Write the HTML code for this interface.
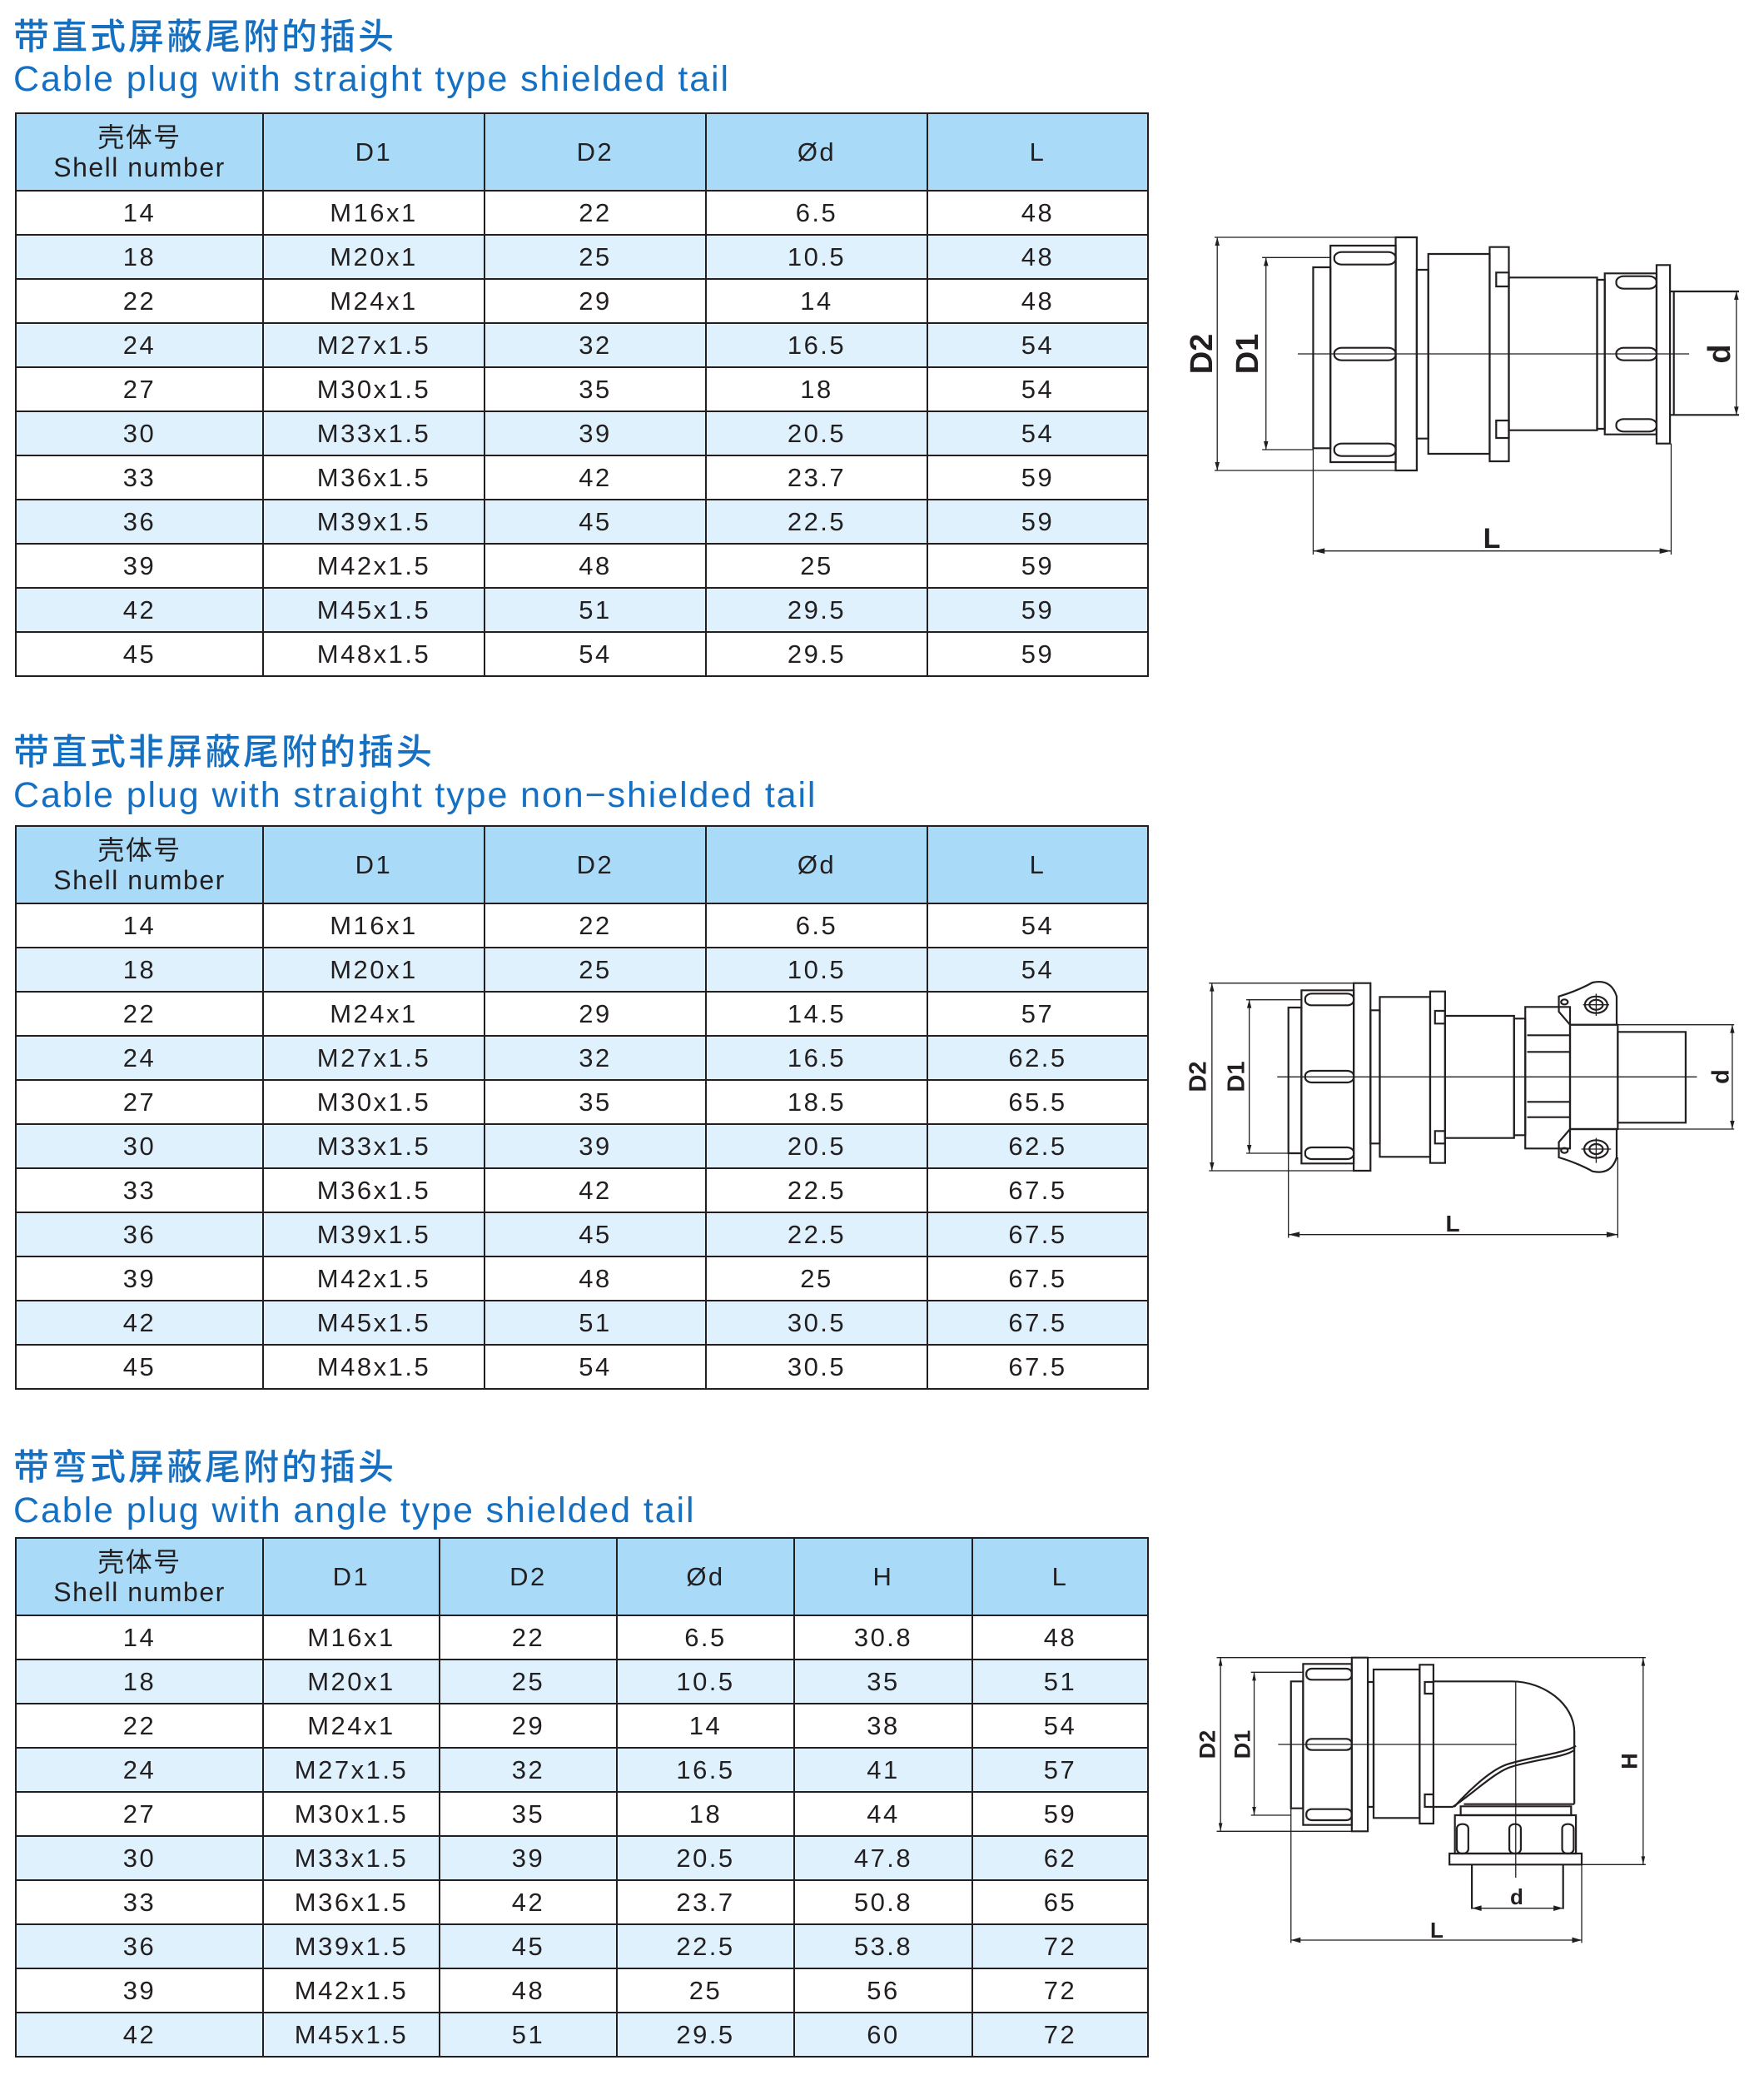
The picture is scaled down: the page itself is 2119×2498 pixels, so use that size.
<!DOCTYPE html>
<html><head><meta charset="utf-8">
<style>
html,body{margin:0;padding:0;background:#fff;}
body{width:2119px;height:2498px;position:relative;overflow:hidden;font-family:"Liberation Sans","Noto Sans CJK SC",sans-serif;}
.t1{position:absolute;left:16px;font-size:43px;line-height:48px;color:#1670c2;font-family:"Liberation Sans","Noto Sans CJK SC",sans-serif;letter-spacing:3px;font-weight:500;}
.t2{position:absolute;left:16px;font-size:43px;line-height:46px;color:#1670c2;letter-spacing:1.9px;}
table{position:absolute;left:18px;border-collapse:collapse;table-layout:fixed;width:1360px;}
td,th{border:2.5px solid #231f20;text-align:center;font-size:31px;letter-spacing:2.5px;color:#231f20;font-weight:normal;padding:0;height:51px;line-height:30px;}
th{background:#a9dbf8;height:91px;}
tr.a td{background:#def1fd;}
.hs{line-height:36px;font-size:32px;letter-spacing:1.5px}
.lb{position:absolute;font-weight:bold;color:#231f20;font-family:"Liberation Sans",sans-serif;transform:translate(-50%,-50%);line-height:1;}
.r{transform:translate(-50%,-50%) rotate(-90deg);}
svg{position:absolute;overflow:visible;}
svg *{vector-effect:non-scaling-stroke;}
</style></head><body>

<div class="t1" style="top:21px">带直式屏蔽尾附的插头</div>
<div class="t2" style="top:72px">Cable plug with straight type shielded tail</div>
<table style="top:135px">
<colgroup><col style="width:297px"><col style="width:266px"><col style="width:266px"><col style="width:266px"><col style="width:265px"></colgroup>
<tr><th><div class="hs">壳体号<br>Shell number</div></th><th>D1</th><th>D2</th><th>Ød</th><th>L</th></tr>
<tr><td>14</td><td>M16x1</td><td>22</td><td>6.5</td><td>48</td></tr>
<tr class="a"><td>18</td><td>M20x1</td><td>25</td><td>10.5</td><td>48</td></tr>
<tr><td>22</td><td>M24x1</td><td>29</td><td>14</td><td>48</td></tr>
<tr class="a"><td>24</td><td>M27x1.5</td><td>32</td><td>16.5</td><td>54</td></tr>
<tr><td>27</td><td>M30x1.5</td><td>35</td><td>18</td><td>54</td></tr>
<tr class="a"><td>30</td><td>M33x1.5</td><td>39</td><td>20.5</td><td>54</td></tr>
<tr><td>33</td><td>M36x1.5</td><td>42</td><td>23.7</td><td>59</td></tr>
<tr class="a"><td>36</td><td>M39x1.5</td><td>45</td><td>22.5</td><td>59</td></tr>
<tr><td>39</td><td>M42x1.5</td><td>48</td><td>25</td><td>59</td></tr>
<tr class="a"><td>42</td><td>M45x1.5</td><td>51</td><td>29.5</td><td>59</td></tr>
<tr><td>45</td><td>M48x1.5</td><td>54</td><td>29.5</td><td>59</td></tr>
</table>

<div class="t1" style="top:880px">带直式非屏蔽尾附的插头</div>
<div class="t2" style="top:932px">Cable plug with straight type non−shielded tail</div>
<table style="top:991px">
<colgroup><col style="width:297px"><col style="width:266px"><col style="width:266px"><col style="width:266px"><col style="width:265px"></colgroup>
<tr><th><div class="hs">壳体号<br>Shell number</div></th><th>D1</th><th>D2</th><th>Ød</th><th>L</th></tr>
<tr><td>14</td><td>M16x1</td><td>22</td><td>6.5</td><td>54</td></tr>
<tr class="a"><td>18</td><td>M20x1</td><td>25</td><td>10.5</td><td>54</td></tr>
<tr><td>22</td><td>M24x1</td><td>29</td><td>14.5</td><td>57</td></tr>
<tr class="a"><td>24</td><td>M27x1.5</td><td>32</td><td>16.5</td><td>62.5</td></tr>
<tr><td>27</td><td>M30x1.5</td><td>35</td><td>18.5</td><td>65.5</td></tr>
<tr class="a"><td>30</td><td>M33x1.5</td><td>39</td><td>20.5</td><td>62.5</td></tr>
<tr><td>33</td><td>M36x1.5</td><td>42</td><td>22.5</td><td>67.5</td></tr>
<tr class="a"><td>36</td><td>M39x1.5</td><td>45</td><td>22.5</td><td>67.5</td></tr>
<tr><td>39</td><td>M42x1.5</td><td>48</td><td>25</td><td>67.5</td></tr>
<tr class="a"><td>42</td><td>M45x1.5</td><td>51</td><td>30.5</td><td>67.5</td></tr>
<tr><td>45</td><td>M48x1.5</td><td>54</td><td>30.5</td><td>67.5</td></tr>
</table>

<div class="t1" style="top:1739px">带弯式屏蔽尾附的插头</div>
<div class="t2" style="top:1791px">Cable plug with angle type shielded tail</div>
<table style="top:1846px">
<colgroup><col style="width:297px"><col style="width:212px"><col style="width:213px"><col style="width:213px"><col style="width:214px"><col style="width:211px"></colgroup>
<tr><th><div class="hs">壳体号<br>Shell number</div></th><th>D1</th><th>D2</th><th>Ød</th><th>H</th><th>L</th></tr>
<tr><td>14</td><td>M16x1</td><td>22</td><td>6.5</td><td>30.8</td><td>48</td></tr>
<tr class="a"><td>18</td><td>M20x1</td><td>25</td><td>10.5</td><td>35</td><td>51</td></tr>
<tr><td>22</td><td>M24x1</td><td>29</td><td>14</td><td>38</td><td>54</td></tr>
<tr class="a"><td>24</td><td>M27x1.5</td><td>32</td><td>16.5</td><td>41</td><td>57</td></tr>
<tr><td>27</td><td>M30x1.5</td><td>35</td><td>18</td><td>44</td><td>59</td></tr>
<tr class="a"><td>30</td><td>M33x1.5</td><td>39</td><td>20.5</td><td>47.8</td><td>62</td></tr>
<tr><td>33</td><td>M36x1.5</td><td>42</td><td>23.7</td><td>50.8</td><td>65</td></tr>
<tr class="a"><td>36</td><td>M39x1.5</td><td>45</td><td>22.5</td><td>53.8</td><td>72</td></tr>
<tr><td>39</td><td>M42x1.5</td><td>48</td><td>25</td><td>56</td><td>72</td></tr>
<tr class="a"><td>42</td><td>M45x1.5</td><td>51</td><td>29.5</td><td>60</td><td>72</td></tr>
</table>

<!-- Diagram 1 -->
<svg style="left:1400px;top:250px" width="719" height="450" viewBox="0 0 1560 1350" preserveAspectRatio="none">
<g fill="none" stroke="#231f20" stroke-width="2.2">
<rect x="385" y="213" width="45" height="652"/>
<rect x="430" y="135" width="170" height="780"/>
<rect x="600" y="105" width="55" height="840"/>
<rect x="440" y="158" width="160" height="45" rx="20"/>
<rect x="440" y="503" width="160" height="45" rx="20"/>
<rect x="440" y="848" width="160" height="45" rx="20"/>
<rect x="655" y="222" width="30" height="608"/>
<rect x="685" y="165" width="160" height="720"/>
<rect x="845" y="140" width="50" height="772"/>
<rect x="862" y="232" width="33" height="50"/>
<rect x="862" y="765" width="33" height="63"/>
<rect x="895" y="250" width="230" height="550"/>
<rect x="1125" y="258" width="20" height="537"/>
<rect x="1145" y="235" width="135" height="580"/>
<rect x="1175" y="245" width="105" height="45" rx="20"/>
<rect x="1175" y="503" width="105" height="45" rx="20"/>
<rect x="1175" y="760" width="105" height="45" rx="20"/>
<rect x="1280" y="205" width="35" height="643"/>
<path d="M1315 300H1495M1315 745H1495M1325 300V745"/>
</g>
<g fill="none" stroke="#231f20" stroke-width="1.3">
<path d="M128 105H600M128 945H600M135 105V945"/>
<path d="M252 178H430M252 870H385M262 178V870"/>
<path d="M345 525H1365"/>
<path d="M1488 300V745"/>
<path d="M385 865V1248M1318 848V1248M385 1235H1318"/>
</g>
<g fill="#231f20">
<polygon points="129,135 135,105 141,135"/><polygon points="129,915 135,945 141,915"/>
<polygon points="256,208 262,178 268,208"/><polygon points="256,840 262,870 268,840"/>
<polygon points="1482,330 1488,300 1494,330"/><polygon points="1482,715 1488,745 1494,715"/>
<polygon points="385,1235 415,1225 415,1245"/><polygon points="1318,1235 1288,1225 1288,1245"/>
</g>
</svg>
<div class="lb r" style="left:1444px;top:425px;font-size:38px">D2</div>
<div class="lb r" style="left:1499px;top:425px;font-size:38px">D1</div>
<div class="lb r" style="left:2066px;top:425px;font-size:38px">d</div>
<div class="lb" style="left:1792px;top:647px;font-size:34px">L</div>

<!-- Diagram 2 -->
<svg style="left:1420px;top:1160px" width="699" height="350" viewBox="0 0 1560 1050" preserveAspectRatio="none">
<g fill="none" stroke="#231f20" stroke-width="2.2">
<rect x="285" y="150" width="35" height="525"/>
<rect x="320" y="88" width="140" height="624"/>
<rect x="460" y="62" width="45" height="676"/>
<rect x="330" y="100" width="130" height="42" rx="18"/>
<rect x="330" y="378" width="130" height="42" rx="18"/>
<rect x="330" y="654" width="130" height="42" rx="18"/>
<rect x="505" y="160" width="25" height="480"/>
<rect x="530" y="112" width="135" height="576"/>
<rect x="665" y="92" width="40" height="618"/>
<rect x="678" y="162" width="27" height="46"/>
<rect x="678" y="595" width="27" height="45"/>
<rect x="705" y="180" width="185" height="440"/>
<rect x="890" y="190" width="30" height="420"/>
<rect x="920" y="148" width="120" height="510"/>
<path d="M925 250H1040M925 310H1040M925 490H1040M925 545H1040"/>
<rect x="1040" y="212" width="128" height="376"/>
<path d="M1010 110Q1060 90 1100 60Q1150 45 1165 110V212H1040L1010 165Z"/>
<path d="M1010 690Q1060 710 1100 740Q1150 755 1165 690V588H1040L1010 635Z"/>
<circle cx="1110" cy="140" r="30"/><circle cx="1110" cy="140" r="18"/>
<circle cx="1110" cy="660" r="32"/><circle cx="1110" cy="660" r="18"/>
<circle cx="1025" cy="130" r="9"/><circle cx="1025" cy="665" r="9"/>
<rect x="1168" y="238" width="182" height="327"/>
</g>
<g fill="none" stroke="#231f20" stroke-width="1.3">
<path d="M1075 140H1145M1110 100V180M1070 660H1150M1110 620V710"/>
<path d="M72 62H460M72 738H460M80 62V738"/>
<path d="M172 122H320M172 675H285M180 122V675"/>
<path d="M255 400H1380"/>
<path d="M1168 212H1480M1168 588H1480M1475 212V588"/>
<path d="M285 675V980M1168 690V980M285 968H1168"/>
</g>
<g fill="#231f20">
<polygon points="74,92 80,62 86,92"/><polygon points="74,708 80,738 86,708"/>
<polygon points="174,152 180,122 186,152"/><polygon points="174,645 180,675 186,645"/>
<polygon points="1469,242 1475,212 1481,242"/><polygon points="1469,558 1475,588 1481,558"/>
<polygon points="285,968 315,958 315,978"/><polygon points="1168,968 1138,958 1138,978"/>
</g>
</svg>
<div class="lb r" style="left:1440px;top:1293px;font-size:29px">D2</div>
<div class="lb r" style="left:1486px;top:1293px;font-size:29px">D1</div>
<div class="lb r" style="left:2068px;top:1293px;font-size:29px">d</div>
<div class="lb" style="left:1745px;top:1470px;font-size:28px">L</div>

<!-- Diagram 3 -->
<svg style="left:1420px;top:1970px" width="600" height="400" viewBox="0 0 1560 1200" preserveAspectRatio="none">
<g fill="none" stroke="#231f20" stroke-width="2.2">
<rect x="340" y="148" width="38" height="457"/>
<rect x="378" y="85" width="152" height="580"/>
<rect x="530" y="62" width="50" height="626"/>
<rect x="388" y="102" width="142" height="40" rx="17"/>
<rect x="388" y="355" width="142" height="40" rx="17"/>
<rect x="388" y="608" width="142" height="40" rx="17"/>
<rect x="580" y="150" width="18" height="450"/>
<rect x="598" y="105" width="144" height="535"/>
<rect x="742" y="88" width="43" height="572"/>
<rect x="758" y="150" width="27" height="42"/>
<rect x="758" y="555" width="27" height="45"/>
<path d="M785 148H1030C1130 148 1225 230 1225 330V590"/>
<path d="M1225 395C1200 420 1100 430 1030 455C980 470 900 560 845 600H785"/>
<path d="M1230 380C1200 405 1090 420 1020 445C960 465 880 560 850 600"/>
<path d="M880 590H1225"/>
<rect x="870" y="598" width="345" height="32"/>
<rect x="852" y="630" width="378" height="138"/>
<rect x="858" y="662" width="36" height="106" rx="16"/>
<rect x="1022" y="662" width="36" height="106" rx="16"/>
<rect x="1187" y="662" width="36" height="106" rx="16"/>
<rect x="835" y="768" width="413" height="40"/>
<path d="M905 808V968M1190 808V968"/>
</g>
<g fill="none" stroke="#231f20" stroke-width="1.3">
<path d="M108 62H1448M108 688H530M120 62V688"/>
<path d="M215 115H378M215 630H340M225 115V630"/>
<path d="M300 375H1045M1042 148V855"/>
<path d="M1248 808H1448M1440 62V808"/>
<path d="M905 965H1190"/>
<path d="M340 605V1090M1248 808V1090M340 1080H1248"/>
</g>
<g fill="#231f20">
<polygon points="114,92 120,62 126,92"/><polygon points="114,658 120,688 126,658"/>
<polygon points="219,145 225,115 231,145"/><polygon points="219,600 225,630 231,600"/>
<polygon points="1434,92 1440,62 1446,92"/><polygon points="1434,778 1440,808 1446,778"/>
<polygon points="905,965 935,955 935,975"/><polygon points="1190,965 1160,955 1160,975"/>
<polygon points="340,1080 370,1070 370,1090"/><polygon points="1248,1080 1218,1070 1218,1090"/>
</g>
</svg>
<div class="lb r" style="left:1451px;top:2095px;font-size:27px">D2</div>
<div class="lb r" style="left:1493px;top:2095px;font-size:27px">D1</div>
<div class="lb r" style="left:1958px;top:2115px;font-size:27px">H</div>
<div class="lb" style="left:1822px;top:2278px;font-size:26px">d</div>
<div class="lb" style="left:1726px;top:2318px;font-size:26px">L</div>

</body></html>
